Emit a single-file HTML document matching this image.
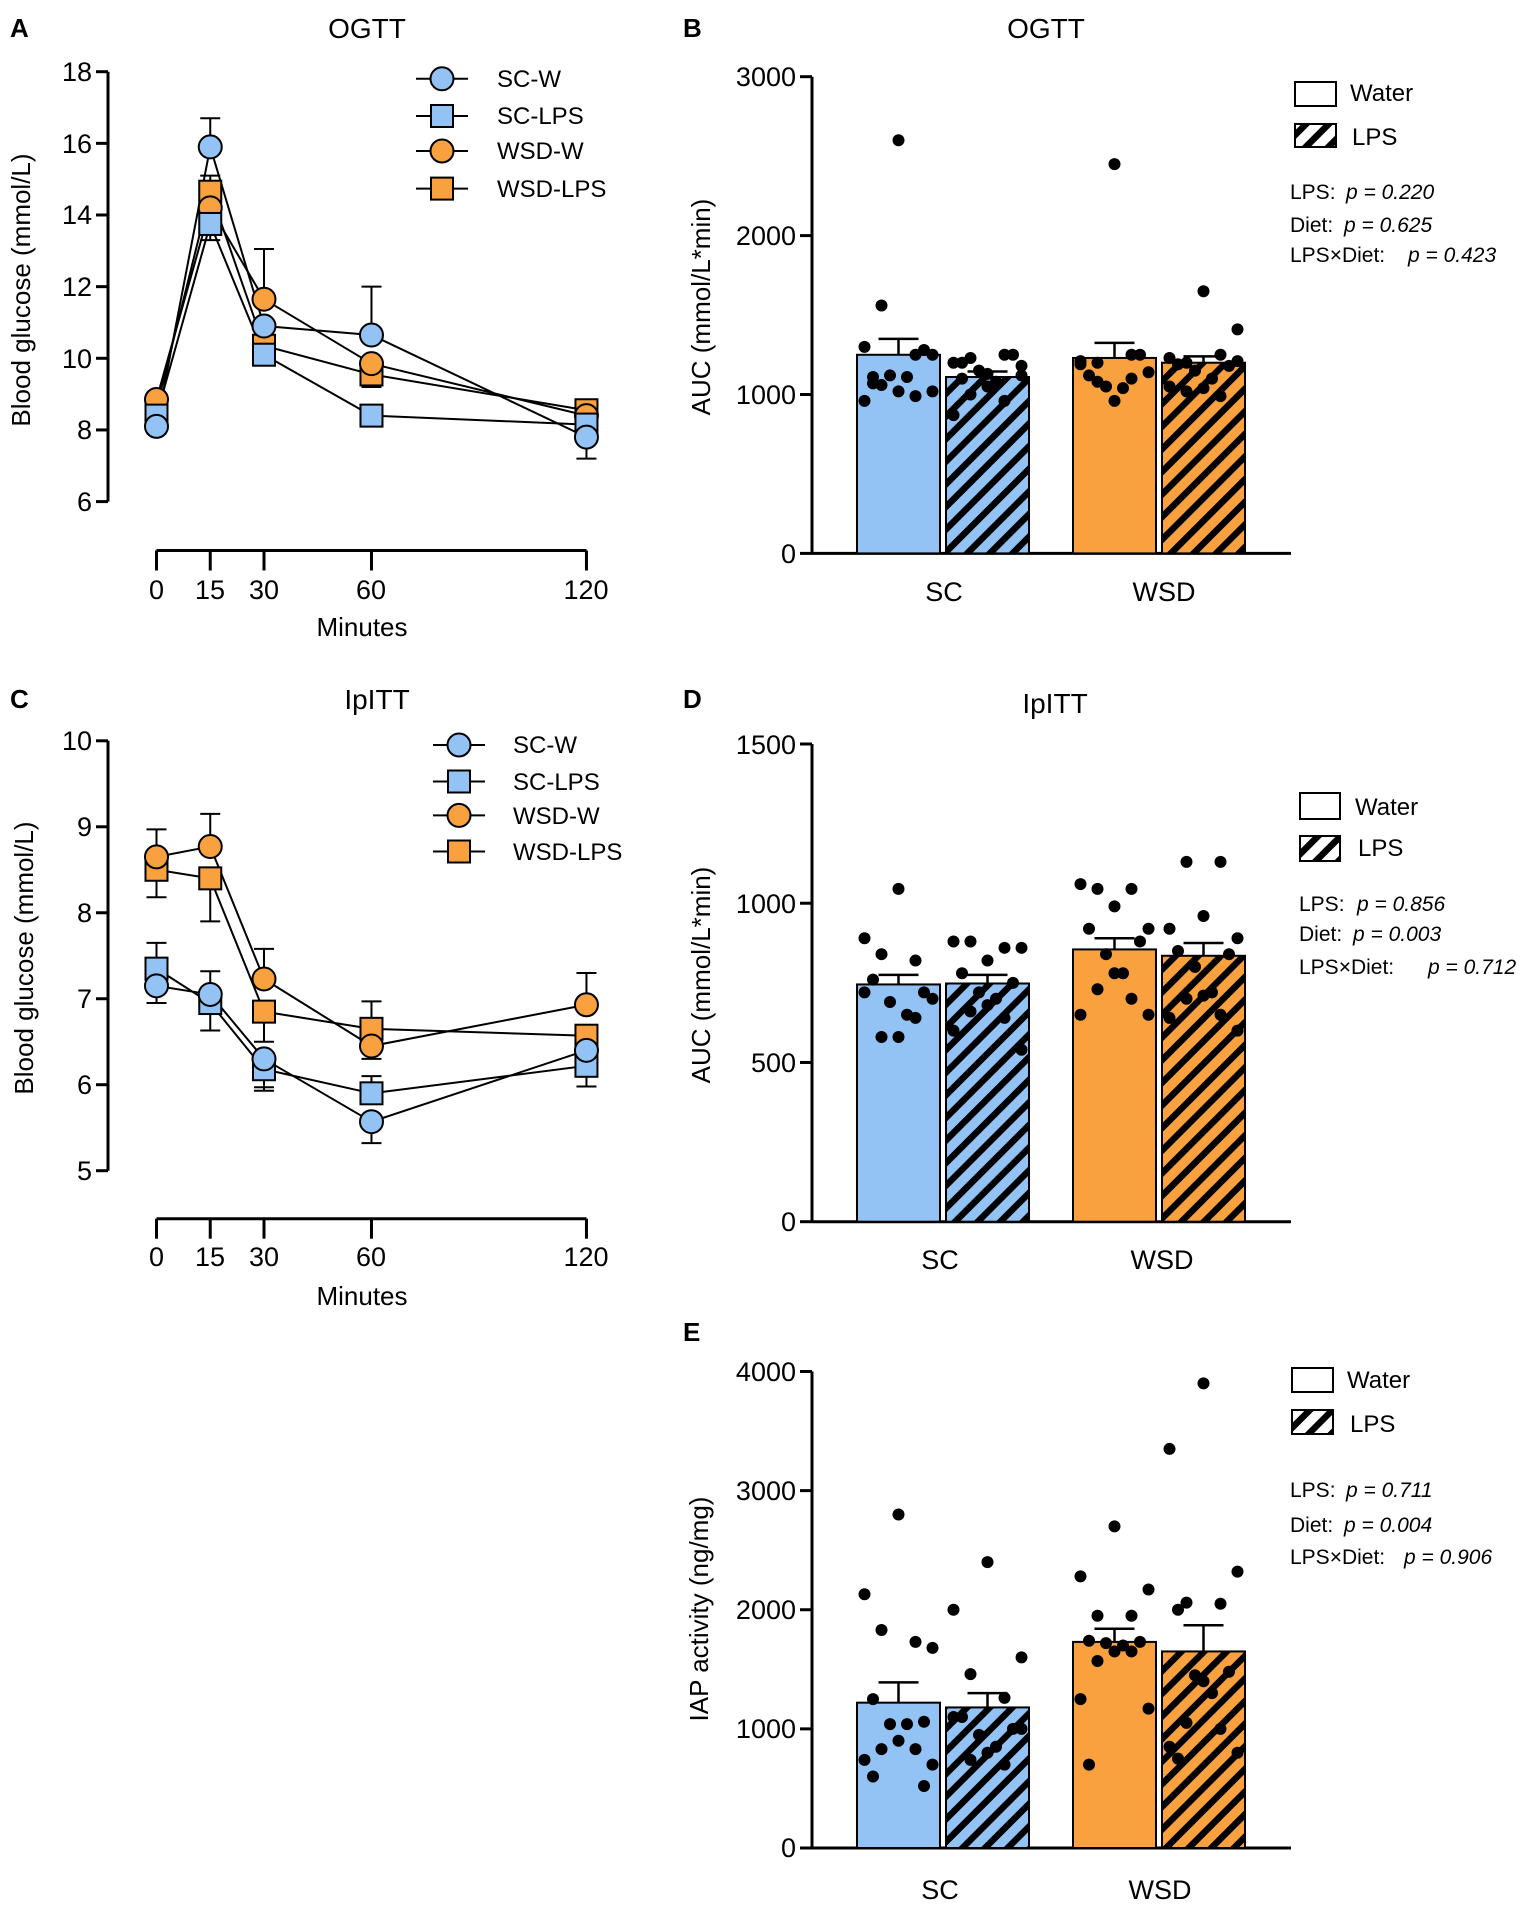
<!DOCTYPE html>
<html><head><meta charset="utf-8">
<style>
html,body{margin:0;padding:0;background:#fff;}
svg{display:block;font-family:"Liberation Sans",Arial,sans-serif;}
.t{font-size:26px;fill:#000;}
.tk{font-size:27px;fill:#000;}
.ti{font-size:28px;fill:#000;}
.lg{font-size:24px;fill:#000;}
.pv{font-size:21px;fill:#000;}
.pl{font-size:26px;font-weight:bold;}
</style></head>
<body>
<svg id="s" width="1524" height="1906" viewBox="0 0 1524 1906" xmlns="http://www.w3.org/2000/svg">
<defs>
<pattern id="hb" patternUnits="userSpaceOnUse" width="16" height="16" patternTransform="rotate(45)">
<rect width="16" height="16" fill="#93c2f5"/><rect width="6.5" height="16" fill="#000"/></pattern>
<pattern id="ho" patternUnits="userSpaceOnUse" width="16" height="16" patternTransform="rotate(45)">
<rect width="16" height="16" fill="#f9a03f"/><rect width="6.5" height="16" fill="#000"/></pattern>
<pattern id="hw" patternUnits="userSpaceOnUse" width="16" height="16" patternTransform="rotate(45)">
<rect width="16" height="16" fill="#fff"/><rect width="6.5" height="16" fill="#000"/></pattern>
</defs>
<text x="10" y="37" class="pl">A</text>
<text x="683" y="37" class="pl">B</text>
<text x="10" y="708" class="pl">C</text>
<text x="683" y="708" class="pl">D</text>
<text x="683" y="1341" class="pl">E</text>
<text x="367" y="38" class="ti" text-anchor="middle">OGTT</text>
<text x="1046" y="38" class="ti" text-anchor="middle">OGTT</text>
<text x="377" y="709" class="ti" text-anchor="middle">IpITT</text>
<text x="1055" y="713" class="ti" text-anchor="middle">IpITT</text>
<text class="t" transform="translate(30,290) rotate(-90)" text-anchor="middle">Blood glucose (mmol/L)</text>
<text class="t" transform="translate(710,307) rotate(-90)" text-anchor="middle">AUC (mmol/L*min)</text>
<text class="t" transform="translate(33,958) rotate(-90)" text-anchor="middle">Blood glucose (mmol/L)</text>
<text class="t" transform="translate(710,975) rotate(-90)" text-anchor="middle">AUC (mmol/L*min)</text>
<text class="t" transform="translate(708,1609) rotate(-90)" text-anchor="middle">IAP activity (ng/mg)</text>
<g class="tk" text-anchor="end">
<text x="92" y="81">18</text><text x="92" y="153">16</text><text x="92" y="224">14</text><text x="92" y="296">12</text><text x="92" y="368">10</text><text x="92" y="439">8</text><text x="92" y="511">6</text>
</g>
<g class="tk" text-anchor="middle">
<text x="156.5" y="599">0</text><text x="210" y="599">15</text><text x="264" y="599">30</text><text x="371" y="599">60</text><text x="586" y="599">120</text>
</g>
<text x="362" y="636" class="t" text-anchor="middle">Minutes</text>
<g class="tk" text-anchor="end">
<text x="92" y="750">10</text><text x="92" y="836">9</text><text x="92" y="922">8</text><text x="92" y="1008">7</text><text x="92" y="1094">6</text><text x="92" y="1180">5</text>
</g>
<g class="tk" text-anchor="middle">
<text x="156.5" y="1266">0</text><text x="210" y="1266">15</text><text x="264" y="1266">30</text><text x="371" y="1266">60</text><text x="586" y="1266">120</text>
</g>
<text x="362" y="1305" class="t" text-anchor="middle">Minutes</text>
<g class="tk" text-anchor="end">
<text x="796" y="86">3000</text><text x="796" y="245">2000</text><text x="796" y="404">1000</text><text x="796" y="563">0</text>
</g>
<g class="tk" text-anchor="middle"><text x="944" y="601">SC</text><text x="1164" y="601">WSD</text></g>
<g class="tk" text-anchor="end">
<text x="796" y="754">1500</text><text x="796" y="913">1000</text><text x="796" y="1072">500</text><text x="796" y="1231">0</text>
</g>
<g class="tk" text-anchor="middle"><text x="940" y="1269">SC</text><text x="1162" y="1269">WSD</text></g>
<g class="tk" text-anchor="end">
<text x="796" y="1381">4000</text><text x="796" y="1500">3000</text><text x="796" y="1619">2000</text><text x="796" y="1738">1000</text><text x="796" y="1857">0</text>
</g>
<g class="tk" text-anchor="middle"><text x="940" y="1899">SC</text><text x="1160" y="1899">WSD</text></g>
<g class="lg">
<text x="497" y="87">SC-W</text><text x="497" y="124">SC-LPS</text><text x="497" y="159">WSD-W</text><text x="497" y="197">WSD-LPS</text>
<text x="513" y="753">SC-W</text><text x="513" y="790">SC-LPS</text><text x="513" y="824">WSD-W</text><text x="513" y="860">WSD-LPS</text>
</g>
<g>
<rect x="1295" y="82" width="41" height="24" fill="#fff" stroke="#000" stroke-width="2"/>
<rect x="1295" y="124" width="41" height="23" fill="url(#hw)" stroke="#000" stroke-width="2"/>
<text class="lg" x="1350" y="101">Water</text><text class="lg" x="1352" y="145">LPS</text>
<text class="pv" x="1290" y="199">LPS:<tspan x="1346" font-style="italic">p = 0.220</tspan></text>
<text class="pv" x="1290" y="232">Diet:<tspan x="1344" font-style="italic">p = 0.625</tspan></text>
<text class="pv" x="1290" y="262">LPS×Diet:<tspan x="1408" font-style="italic">p = 0.423</tspan></text>

<rect x="1300" y="793" width="40" height="26" fill="#fff" stroke="#000" stroke-width="2"/>
<rect x="1300" y="836" width="40" height="25" fill="url(#hw)" stroke="#000" stroke-width="2"/>
<text class="lg" x="1355" y="815">Water</text><text class="lg" x="1358" y="856">LPS</text>
<text class="pv" x="1299" y="911">LPS:<tspan x="1357" font-style="italic">p = 0.856</tspan></text>
<text class="pv" x="1299" y="941">Diet:<tspan x="1353" font-style="italic">p = 0.003</tspan></text>
<text class="pv" x="1299" y="974">LPS×Diet:<tspan x="1428" font-style="italic">p = 0.712</tspan></text>

<rect x="1292" y="1368" width="41" height="24" fill="#fff" stroke="#000" stroke-width="2"/>
<rect x="1292" y="1410" width="41" height="24" fill="url(#hw)" stroke="#000" stroke-width="2"/>
<text class="lg" x="1347" y="1388">Water</text><text class="lg" x="1350" y="1432">LPS</text>
<text class="pv" x="1290" y="1497">LPS:<tspan x="1346" font-style="italic">p = 0.711</tspan></text>
<text class="pv" x="1290" y="1532">Diet:<tspan x="1344" font-style="italic">p = 0.004</tspan></text>
<text class="pv" x="1290" y="1564">LPS×Diet:<tspan x="1404" font-style="italic">p = 0.906</tspan></text>
</g>
<g id="g"></g>
</svg>
<script>
var NS="http://www.w3.org/2000/svg",G=document.getElementById("g");
function el(t,a){var e=document.createElementNS(NS,t);for(var k in a)e.setAttribute(k,a[k]);G.appendChild(e);return e;}
function ln(x1,y1,x2,y2,w){el("line",{x1:x1,y1:y1,x2:x2,y2:y2,stroke:"#000","stroke-width":w||2.5});}
var BL="#93c2f5",OR="#f9a03f";
function mk(x,y,c,sq){if(sq)el("rect",{x:x-11,y:y-11,width:22,height:22,fill:c,stroke:"#000","stroke-width":2});else el("circle",{cx:x,cy:y,r:11.5,fill:c,stroke:"#000","stroke-width":2});}
var tx=[0,15,30,60,120];function X(t){return 156.5+t*3.583;}
function linePanel(yTop,yBot,vTop,vBot,ticks,xAxisY,series){
 ln(108,yTop,108,yBot,3);
 function Y(v){return yTop+(vTop-v)/(vTop-vBot)*(yBot-yTop);}
 ticks.forEach(function(v){ln(96,Y(v),108,Y(v),3);});
 ln(156.5,xAxisY,586.5,xAxisY,3);
 tx.forEach(function(t){ln(X(t),xAxisY,X(t),xAxisY+20,3);});
 series.forEach(function(s){for(var i=0;i<4;i++)ln(X(tx[i]),Y(s.v[i]),X(tx[i+1]),Y(s.v[i+1]),2);
  s.e.forEach(function(e){var x=X(tx[e[0]]);ln(x,Y(s.v[e[0]]),x,Y(e[1]),2);ln(x-10,Y(e[1]),x+10,Y(e[1]),2);});});
 series.forEach(function(s){for(var i=0;i<5;i++)mk(X(tx[i]),Y(s.v[i]),s.c,s.sq);});
}
var A=[
 {c:OR,sq:1,v:[8.6,14.65,10.35,9.55,8.55],e:[[1,15.1],[3,9.2],[4,8.7]]},
 {c:OR,sq:0,v:[8.85,14.2,11.65,9.85,8.4],e:[[2,13.05],[3,9.3]]},
 {c:BL,sq:1,v:[8.4,13.75,10.1,8.4,8.15],e:[[1,13.3],[2,9.85],[0,7.9]]},
 {c:BL,sq:0,v:[8.1,15.9,10.9,10.65,7.8],e:[[1,16.7],[3,12.0],[4,7.2]]}];
linePanel(71.7,501.6,18,6,[18,16,14,12,10,8,6],550.5,A);
var C=[
 {c:OR,sq:1,v:[8.5,8.4,6.85,6.65,6.57],e:[[0,8.18],[1,7.9],[2,6.5],[3,6.3],[4,6.2]]},
 {c:OR,sq:0,v:[8.65,8.77,7.23,6.45,6.93],e:[[0,8.97],[1,9.15],[2,7.58],[3,6.97],[4,7.3]]},
 {c:BL,sq:1,v:[7.35,6.95,6.18,5.9,6.22],e:[[0,7.65],[1,6.63],[2,5.93],[3,6.1],[4,5.98]]},
 {c:BL,sq:0,v:[7.15,7.05,6.3,5.57,6.4],e:[[0,6.95],[1,7.32],[2,5.97],[3,5.32],[4,6.1]]}];
linePanel(740.8,1170.7,10,5,[10,9,8,7,6,5],1218.7,C);
function legm(x,ys){var cs=[[BL,0],[BL,1],[OR,0],[OR,1]];ys.forEach(function(y,i){ln(x-26,y,x+26,y,2);mk(x,y,cs[i][0],cs[i][1]);});}
legm(442,[78.8,116,151,188.6]);legm(459,[745,781.5,815.4,851.5]);
var bx=[[857,940],[946,1029],[1073,1156],[1162,1245]];
var fills=[BL,"url(#hb)",OR,"url(#ho)"];
function barPanel(yTop,y0,vmax,ticks,bars){
 function Y(v){return y0-(v/vmax)*(y0-yTop);}
 ln(812,yTop,812,y0,3);ln(812,y0,1291,y0,3);
 ticks.forEach(function(v){ln(800,Y(v),812,Y(v),3);});
 bars.forEach(function(b,i){var x0=bx[i][0],x1=bx[i][1],cx=(x0+x1)/2;
  ln(cx,Y(b.m),cx,Y(b.e),2.5);ln(cx-20,Y(b.e),cx+20,Y(b.e),2.5);
  el("rect",{x:x0,y:Y(b.m),width:x1-x0,height:y0-Y(b.m),fill:fills[i],stroke:"#000","stroke-width":2});
  b.d.forEach(function(d,j){var off=[0,-1,1,-2,2,-1.5,1.5,-0.5,0.5][j%9]*17;el("circle",{cx:cx+off,cy:Y(d),r:6,fill:"#000"});});
 });
}
barPanel(76.7,553.4,3000,[0,1000,2000,3000],[
 {m:1250,e:1350,d:[2600,1560,1250,1300,1250,1110,1280,1120,1110,1020,1060,990,960,1020,1070]},
 {m:1110,e:1145,d:[1130,1230,1250,1200,1180,1100,1250,1150,1080,1050,1000,960,870,1120,1200]},
 {m:1230,e:1325,d:[2450,1200,1250,1210,1140,1120,1250,1050,1040,960,1080,1100,1190]},
 {m:1200,e:1240,d:[1650,1200,1250,1230,1410,1190,1180,1150,1100,1040,1020,990,1050,1210]}]);
barPanel(744,1221.7,1500,[0,500,1000,1500],[
 {m:745,e:775,d:[1045,840,820,890,700,760,720,690,650,580,580,640,720]},
 {m:748,e:775,d:[820,880,860,880,860,780,750,720,700,680,660,640,600,540]},
 {m:855,e:890,d:[990,1045,1045,1060,920,920,880,840,780,780,730,700,650,650]},
 {m:835,e:875,d:[960,1130,1130,920,890,850,840,800,720,710,700,650,640,600]}]);
barPanel(1371.5,1848,4000,[0,1000,2000,3000,4000],[
 {m:1220,e:1390,d:[2800,1830,1730,2130,1680,1250,1060,1040,1040,900,830,830,740,700,600,520]},
 {m:1180,e:1300,d:[2400,1460,1260,2000,1600,1100,1000,950,850,800,740,700,1100,1000]},
 {m:1730,e:1840,d:[2700,1950,1950,2280,2170,1740,1730,1720,1700,1650,1570,1650,1250,1170,700]},
 {m:1650,e:1870,d:[3900,2060,2050,3350,2320,2000,1480,1450,1300,1400,1050,1000,850,800,750]}]);
</script>
</body></html>
